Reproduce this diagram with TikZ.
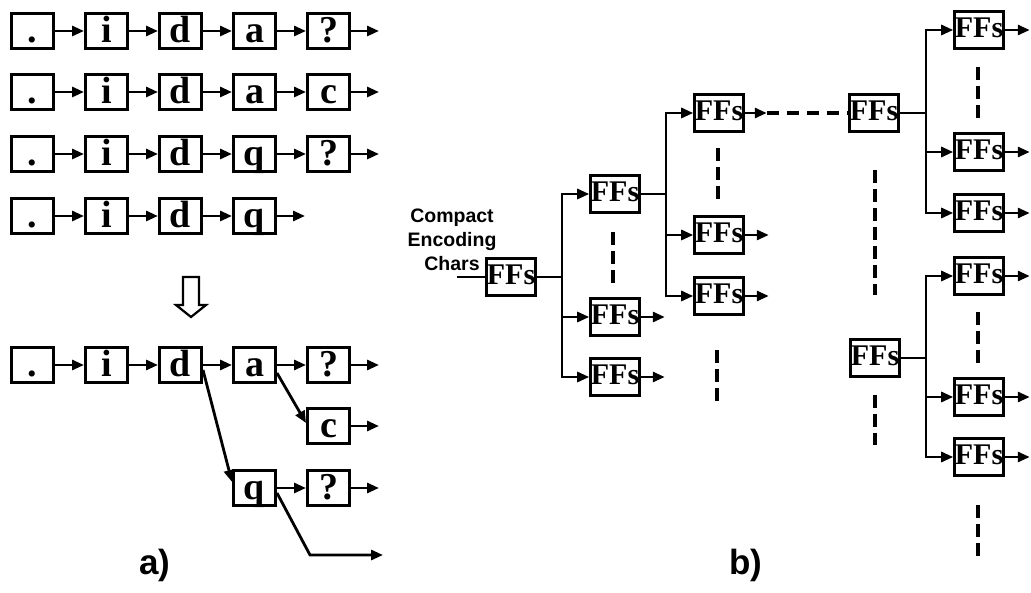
\documentclass[tikz,border=0pt]{standalone}
\usepackage{fontspec}
\setmainfont{Liberation Serif}
\setsansfont{Liberation Sans}
\usetikzlibrary{arrows.meta}

\begin{document}
\begin{tikzpicture}[
  x=1pt, y=-1pt,
  cell/.style={draw, line width=3.2pt, minimum width=41.8pt, inner sep=0pt,
               text height=28.5pt, text depth=6.3pt,
               font=\fontsize{38}{38}\selectfont\bfseries},
  ff/.style={draw, line width=3.2pt, minimum width=47.8pt, inner sep=0pt,
             text height=25.6pt, text depth=11.2pt,
             font=\fontsize{30}{30}\selectfont\bfseries},
  wire/.style={line width=2.8pt},
  arr/.style={-{Triangle[length=12pt,width=10pt]}, line width=2.8pt},
  vdots/.style={line width=3.4pt, dash pattern=on 13pt off 6pt},
  hdash/.style={line width=3.2pt, dash pattern=on 12pt off 8pt},
  lbl/.style={font=\fontsize{19.5}{24}\selectfont\sffamily\bfseries, align=center},
  tag/.style={font=\fontsize{35}{35}\selectfont\sffamily\bfseries},
]
  \useasboundingbox (0,0) rectangle (1031,593);

  % ======== a) four strings ========
  \foreach \y/\lst [count=\r] in {31/{.,i,d,a,?}, 92/{.,i,d,a,c},
                                  154/{.,i,d,q,?}, 216/{.,i,d,q}}
    \foreach \ch [count=\k] in \lst
      \node[cell] (r\r-\k) at ({32.5+74*(\k-1)}, \y) {\ch};

  \foreach \r/\n in {1/5, 2/5, 3/5, 4/4} {
    \foreach \k [remember=\k as \p (initially 1)] in {2,...,\n}
      \draw[arr] (r\r-\p) -- (r\r-\k);
    \draw[arr] (r\r-\n.east) -- ++(28,0);
  }

  % --- hollow arrow ---
  \draw[line width=2.2pt, line join=miter]
    (183,277) -- (199,277) -- (199,305) -- (206,305) -- (191,317)
    -- (176,305) -- (183,305) -- cycle;

  % --- merged tree ---
  \node[cell] (t1) at (32.5,365) {.};
  \node[cell] (t2) at (106.5,365) {i};
  \node[cell] (t3) at (180.5,365) {d};
  \node[cell] (t4) at (254.5,365) {a};
  \node[cell] (t5) at (328.5,365) {?};
  \node[cell] (tc) at (328.5,426) {c};
  \node[cell] (tq) at (254.5,488) {q};
  \node[cell] (tq2) at (328.5,488) {?};

  \draw[arr] (t1) -- (t2);
  \draw[arr] (t2) -- (t3);
  \draw[arr] (t3) -- (t4);
  \draw[arr] (t4) -- (t5);
  \draw[arr] (tq) -- (tq2);
  \draw[arr] ([yshift=-5pt]t3.east) -- ([yshift=6pt]tq.west);
  \draw[arr] ([yshift=-8pt]t4.east) -- ([yshift=3pt]tc.west);
  \coordinate (bend) at (310,555);
  \draw[arr] ([yshift=-5pt]tq.east) -- (bend) -- ++(73,0);
  \foreach \t in {t5,tc,tq2}
    \draw[arr] (\t.east) -- ++(28,0);

  \node[tag] (la) at (155,565) {a)};

  % ======== b) FF tree ========
  \node[ff] (f0) at (511,277) {FFs};
  \node[lbl] (cec) at (452,240) {Compact\\Encoding\\Chars};
  \coordinate (in) at (457,277);
  \draw[wire] (in) -- (f0);

  % --- level 1 ---
  \node[ff] (f1a) at (615,194) {FFs};
  \node[ff] (f1b) at (615,317) {FFs};
  \node[ff] (f1c) at (615,377) {FFs};
  \coordinate (s1) at (562,277);
  \draw[wire] (f0) -- (s1);
  \foreach \t in {f1a,f1b,f1c}
    \draw[arr] (s1) |- (\t);
  \foreach \t in {f1b,f1c}
    \draw[arr] (\t.east) -- ++(24,0);

  % --- level 2 ---
  \node[ff] (f2a) at (719,113) {FFs};
  \node[ff] (f2b) at (719,235) {FFs};
  \node[ff] (f2c) at (719,296) {FFs};
  \coordinate (s2) at (666,194);
  \draw[wire] (f1a) -- (s2);
  \foreach \t in {f2a,f2b,f2c}
    \draw[arr] (s2) |- (\t);
  \foreach \t in {f2b,f2c}
    \draw[arr] (\t.east) -- ++(24,0);

  % --- last levels ---
  \node[ff] (f3a) at (874,113) {FFs};
  \node[ff] (f3b) at (875,358) {FFs};
  \draw[arr] (f2a.east) -- ++(22,0) coordinate (gap);
  \draw[hdash] (gap) -- (f3a);

  \node[ff] (f4a) at (979,30) {FFs};
  \node[ff] (f4b) at (979,152) {FFs};
  \node[ff] (f4c) at (979,213) {FFs};
  \node[ff] (f4d) at (979,276) {FFs};
  \node[ff] (f4e) at (979,397) {FFs};
  \node[ff] (f4f) at (979,457) {FFs};
  \coordinate (s3) at (926,113);
  \coordinate (s4) at (926,358);
  \draw[wire] (f3a) -- (s3);
  \draw[wire] (f3b) -- (s4);
  \foreach \t in {f4a,f4b,f4c}
    \draw[arr] (s3) |- (\t);
  \foreach \t in {f4d,f4e,f4f}
    \draw[arr] (s4) |- (\t);
  \foreach \t in {f4a,f4b,f4c,f4d,f4e,f4f}
    \draw[arr] (\t.east) -- ++(25,0);

  % --- vertical dots ---
  \foreach \x/\ya/\yb in {613/232/283, 718/148/200, 717/350/402,
                          875/170/295, 875/395/445, 978/67/118,
                          978/312/363, 978/505/556}
    \draw[vdots] (\x,\ya) -- (\x,\yb);

  \node[tag] (lb) at (746,565) {b)};

\end{tikzpicture}
\end{document}
